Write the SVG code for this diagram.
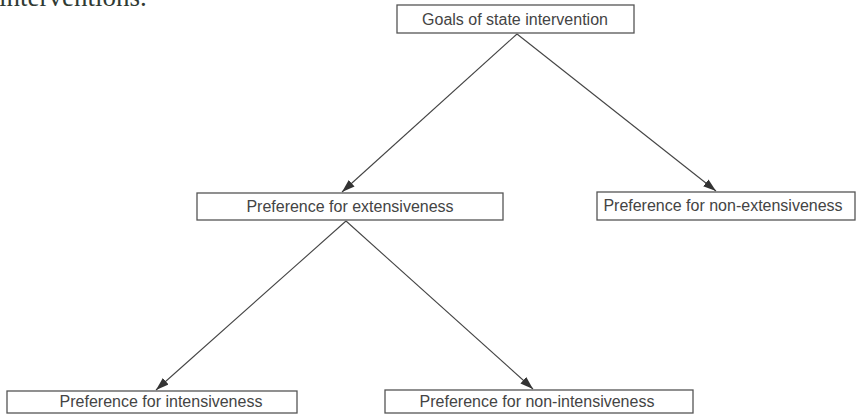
<svg xmlns="http://www.w3.org/2000/svg" width="865" height="415" viewBox="0 0 865 415">
  <style>
    .box { fill: #ffffff; stroke: #555555; stroke-width: 1.3; }
    .lbl { font-family: "Liberation Sans", Arial, sans-serif; font-size: 16px; fill: #444444; text-anchor: middle; }
    .edge { stroke: #444444; stroke-width: 1.1; fill: none; marker-end: url(#arr); }
  </style>
  <defs>
    <marker id="arr" viewBox="0 0 12 10" refX="12" refY="5" markerWidth="13" markerHeight="11" markerUnits="userSpaceOnUse" orient="auto">
      <path d="M0,1 L12,5 L0,9 Z" fill="#333333"/>
    </marker>
  </defs>
  <rect width="865" height="415" fill="#ffffff"/>
  <text x="-1" y="6" font-family="Liberation Serif, serif" font-size="27" fill="#2f3a33">interventions.</text>
  <g id="connectors">
    <line class="edge" x1="517" y1="34" x2="342" y2="192"/>
    <line class="edge" x1="517" y1="34" x2="716" y2="191"/>
    <line class="edge" x1="346" y1="221" x2="156" y2="390"/>
    <line class="edge" x1="346" y1="221" x2="533" y2="389"/>
  </g>
  <g id="goals">
    <rect class="box" x="397" y="5" width="237" height="28"/>
    <text class="lbl" x="515" y="25">Goals of state intervention</text>
  </g>
  <g id="extensiveness">
    <rect class="box" x="197" y="193" width="306" height="27"/>
    <text class="lbl" x="350" y="212">Preference for extensiveness</text>
  </g>
  <g id="non-extensiveness">
    <rect class="box" x="597" y="192" width="258" height="28"/>
    <text class="lbl" x="723" y="211">Preference for non-extensiveness</text>
  </g>
  <g id="intensiveness">
    <rect class="box" x="7" y="391" width="290" height="22"/>
    <text class="lbl" x="161" y="407">Preference for intensiveness</text>
  </g>
  <g id="non-intensiveness">
    <rect class="box" x="385" y="390" width="308" height="23"/>
    <text class="lbl" x="537" y="407">Preference for non-intensiveness</text>
  </g>
</svg>
